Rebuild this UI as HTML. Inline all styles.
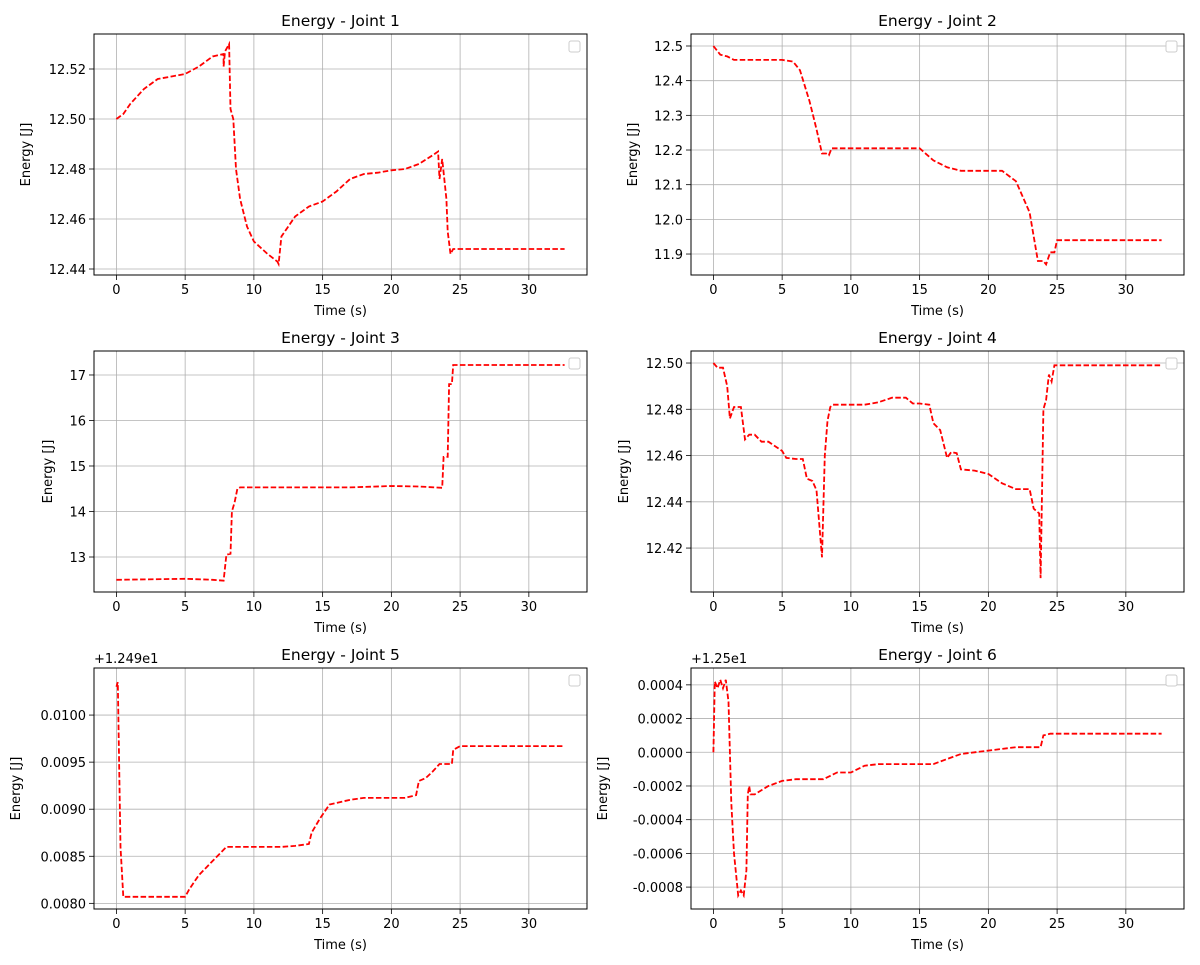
<!DOCTYPE html>
<html><head><meta charset="utf-8"><style>
body{margin:0;background:#fff}
svg{display:block;font-family:"DejaVu Sans","Liberation Sans",sans-serif}
</style></head><body>
<svg id="fig" width="1200" height="965" viewBox="0 0 1200 965" xmlns="http://www.w3.org/2000/svg"></svg>
<script>
const titles = ["Energy - Joint 1","Energy - Joint 2","Energy - Joint 3","Energy - Joint 4","Energy - Joint 5","Energy - Joint 6"];
const xTicks = [0,5,10,15,20,25,30];
const t1 = [0,0.5,1,2,3,4,5,6,7,7.8,7.8,7.9,8.2,8.3,8.5,8.7,9,9.5,10,11,11.7,11.8,12,13,14,15,16,17,18,19,20,21,22,23,23.4,23.5,23.7,24,24.1,24.3,24.5,32.6];
const e1 = [12.500,12.502,12.506,12.512,12.516,12.517,12.518,12.521,12.525,12.526,12.521,12.527,12.530,12.504,12.500,12.48,12.468,12.457,12.451,12.446,12.443,12.442,12.453,12.461,12.465,12.467,12.471,12.476,12.478,12.4785,12.4795,12.480,12.482,12.4855,12.487,12.476,12.484,12.468,12.455,12.446,12.448,12.448];
const t2 = [0,0.5,1,1.5,5,5.8,6.3,7,7.5,7.9,8.2,8.4,8.6,15,16,17,18,21,22,23,23.6,24,24.2,24.5,24.8,25,32.6];
const e2 = [12.5,12.475,12.47,12.46,12.46,12.455,12.43,12.34,12.26,12.19,12.19,12.185,12.205,12.205,12.17,12.15,12.14,12.14,12.11,12.02,11.88,11.88,11.87,11.905,11.905,11.94,11.94];
const t3 = [0,5,7,7.8,8,8.3,8.4,8.6,8.8,9,17,20,22,23.7,23.8,24.1,24.2,24.4,24.5,32.6];
const e3 = [12.5,12.52,12.5,12.48,13.05,13.07,14,14.2,14.5,14.53,14.53,14.56,14.55,14.52,15.2,15.2,16.8,16.8,17.22,17.22];
const t4 = [0,0.3,0.7,1,1.2,1.5,2,2.3,2.6,3,3.5,4,5,5.3,6,6.5,6.8,7.2,7.5,7.9,8.1,8.3,8.5,8.7,11,12,13,14,14.5,15,15.7,16,16.5,17,17.3,17.7,18,19,20,21,22,23,23.3,23.7,23.8,24,24.2,24.4,24.6,24.8,32.6];
const e4 = [12.5,12.498,12.498,12.49,12.476,12.481,12.481,12.467,12.469,12.469,12.466,12.466,12.462,12.459,12.4585,12.4585,12.45,12.449,12.445,12.416,12.46,12.475,12.481,12.482,12.482,12.483,12.485,12.485,12.4825,12.4825,12.482,12.474,12.471,12.459,12.4615,12.461,12.454,12.4535,12.452,12.448,12.4455,12.4455,12.437,12.435,12.407,12.48,12.484,12.495,12.492,12.499,12.499];
const t5 = [0,0.1,0.3,0.5,5,5.3,6,7,8,12,13,14,14.2,14.8,15.5,17,18,21,21.8,22,22.5,23,23.5,24.4,24.5,25,32.6];
const e5 = [0.0103,0.01035,0.0086,0.00807,0.00807,0.00815,0.0083,0.00845,0.0086,0.0086,0.00861,0.00863,0.00875,0.0089,0.00905,0.0091,0.00912,0.00912,0.00915,0.0093,0.00933,0.0094,0.00948,0.00948,0.00963,0.00967,0.00967];
const t6 = [0,0.1,0.3,0.5,0.7,0.9,1.1,1.3,1.5,1.8,2,2.2,2.4,2.5,2.6,2.7,3,4,5,6,8,9,10,11,12,16,17,18,19,21,22,23.8,24,24.5,32.6];
const e6 = [0,0.00042,0.00038,0.00043,0.00038,0.00043,0.0003,-0.0003,-0.0006,-0.00085,-0.00082,-0.00085,-0.0007,-0.00025,-0.0002,-0.00025,-0.00025,-0.0002,-0.00017,-0.00016,-0.00016,-0.00012,-0.00012,-0.00008,-0.00007,-0.00007,-0.00004,-0.00001,0,0.00002,0.00003,0.00003,0.0001,0.00011,0.00011];
const yTicks1 = [12.44,12.46,12.48,12.50,12.52];
const yTicks2 = [11.9,12.0,12.1,12.2,12.3,12.4,12.5];
const yTicks3 = [13,14,15,16,17];
const yTicks4 = [12.42,12.44,12.46,12.48,12.50];
const yTicks5 = [0.0080,0.0085,0.0090,0.0095,0.0100];
const yTicks6 = [-0.0008,-0.0006,-0.0004,-0.0002,0.0000,0.0002,0.0004];

const NS="http://www.w3.org/2000/svg";
const svg=document.getElementById('fig');
function mk(tag,attrs,parent,text){const e=document.createElementNS(NS,tag);for(const k in attrs)e.setAttribute(k,attrs[k]);if(text!==undefined)e.textContent=text;(parent||svg).appendChild(e);return e;}

const panels=[
 {x:94,y:34,t:t1,e:e1,ticks:yTicks1,ymin:12.4376,ymax:12.534,dec:2,off:null,ylx:30},
 {x:691,y:34,t:t2,e:e2,ticks:yTicks2,ymin:11.8395,ymax:12.5346,dec:1,off:null,ylx:637},
 {x:94,y:351,t:t3,e:e3,ticks:yTicks3,ymin:12.231,ymax:17.527,dec:0,off:null,ylx:52},
 {x:691,y:351,t:t4,e:e4,ticks:yTicks4,ymin:12.401,ymax:12.5052,dec:2,off:null,ylx:628},
 {x:94,y:668,t:t5,e:e5,ticks:yTicks5,ymin:0.00794,ymax:0.0105,dec:4,off:"+1.249e1",ylx:20},
 {x:691,y:668,t:t6,e:e6,ticks:yTicks6,ymin:-0.00093,ymax:0.0005,dec:4,off:"+1.25e1",ylx:607}
];
const W=493,H=241,XMIN=-1.63,XMAX=34.23;
panels.forEach((p,i)=>{
  const g=mk('g',{});
  
  
  const sx=v=>p.x+(v-XMIN)/(XMAX-XMIN)*W;
  const sy=v=>p.y+H-(v-p.ymin)/(p.ymax-p.ymin)*H;
  xTicks.forEach(v=>{
    const X=sx(v);
    const gl=mk('line',{x1:X,x2:X,y1:p.y,y2:p.y+H,stroke:'#b0b0b0','stroke-width':0.8},g);
    
    
    mk('line',{x1:X,x2:X,y1:p.y+H,y2:p.y+H+5,stroke:'#000','stroke-width':0.8},g);
    const tl=mk('text',{x:X,y:p.y+H+19,'font-size':13,'text-anchor':'middle'},g,String(v));
    
    
  });
  p.ticks.forEach(v=>{
    const Y=sy(v);
    const gl=mk('line',{x1:p.x,x2:p.x+W,y1:Y,y2:Y,stroke:'#b0b0b0','stroke-width':0.8},g);
    
    
    mk('line',{x1:p.x-5,x2:p.x,y1:Y,y2:Y,stroke:'#000','stroke-width':0.8},g);
    const tl=mk('text',{x:p.x-8,y:Y+5,'font-size':13,'text-anchor':'end'},g,v.toFixed(p.dec));
    
    
  });
  const pts=p.t.map((t,k)=>sx(t).toFixed(1)+','+sy(p.e[k]).toFixed(1)).join(' ');
  const ln=mk('polyline',{points:pts,fill:'none',stroke:'#ff0000','stroke-width':1.8,'stroke-dasharray':'5.5,2.4'},g);
  
  
  const fr=mk('rect',{x:p.x,y:p.y,width:W,height:H,fill:'none',stroke:'#000','stroke-width':1},g);
  
  
  const lg=mk('rect',{x:p.x+W-18,y:p.y+7,width:11,height:11,rx:2,fill:'#fff',stroke:'#ccc','stroke-width':1},g);
  
  
  const ti=mk('text',{x:p.x+W/2,y:p.y-8,'font-size':15.5,'text-anchor':'middle'},g,titles[i]);
  
  
  const xl=mk('text',{x:p.x+W/2,y:p.y+H+40,'font-size':13,'text-anchor':'middle'},g,'Time (s)');
  
  
  const yl=mk('text',{x:p.ylx,y:p.y+H/2,'font-size':13,'text-anchor':'middle',transform:'rotate(-90 '+p.ylx+' '+(p.y+H/2)+')'},g,'Energy [J]');
  
  
  if(p.off){
    const o=mk('text',{x:p.x,y:p.y-5,'font-size':13},g,p.off);
    
    
  }
});
</script>
</body></html>
